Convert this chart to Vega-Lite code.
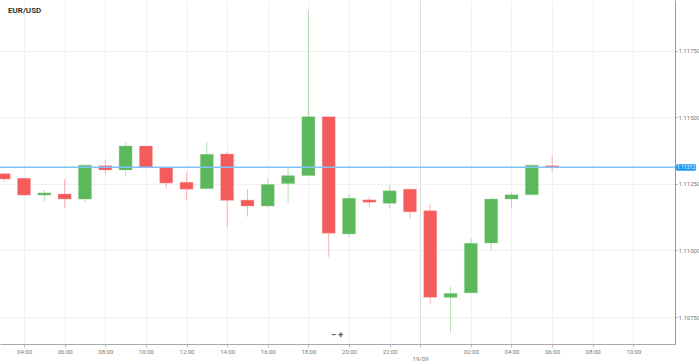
{
  "$schema": "https://vega.github.io/schema/vega-lite/v6.json",
  "width": 675,
  "height": 344,
  "autosize": {"type": "none"},
  "padding": {"left": 0, "top": 0, "right": 24, "bottom": 20},
  "background": "white",
  "title": {"text": "EUR/USD", "anchor": "start", "frame": "group", "offset": 0, "dx": 8, "dy": 15, "fontSize": 8, "font": "Roboto", "fontWeight": "bold", "color": "#333333"},
  "config": {"view": {"stroke": null}, "font": "Roboto"},
  "datasets": {
    "candles": [
      {"t": "2019-09-18T03:00", "o": 1.11288, "h": 1.11293, "l": 1.11258, "c": 1.11268},
      {"t": "2019-09-18T04:00", "o": 1.11271, "h": 1.11272, "l": 1.11207, "c": 1.11208},
      {"t": "2019-09-18T05:00", "o": 1.11208, "h": 1.11227, "l": 1.11183, "c": 1.11216},
      {"t": "2019-09-18T06:00", "o": 1.11212, "h": 1.11268, "l": 1.11160, "c": 1.11193},
      {"t": "2019-09-18T07:00", "o": 1.11193, "h": 1.11321, "l": 1.11181, "c": 1.11320},
      {"t": "2019-09-18T08:00", "o": 1.11318, "h": 1.11340, "l": 1.11286, "c": 1.11302},
      {"t": "2019-09-18T09:00", "o": 1.11302, "h": 1.11406, "l": 1.11277, "c": 1.11392},
      {"t": "2019-09-18T10:00", "o": 1.11392, "h": 1.11394, "l": 1.11309, "c": 1.11311},
      {"t": "2019-09-18T11:00", "o": 1.11310, "h": 1.11311, "l": 1.11233, "c": 1.11253},
      {"t": "2019-09-18T12:00", "o": 1.11256, "h": 1.11294, "l": 1.11187, "c": 1.11230},
      {"t": "2019-09-18T13:00", "o": 1.11232, "h": 1.11406, "l": 1.11230, "c": 1.11361},
      {"t": "2019-09-18T14:00", "o": 1.11362, "h": 1.11371, "l": 1.11089, "c": 1.11188},
      {"t": "2019-09-18T15:00", "o": 1.11189, "h": 1.11230, "l": 1.11127, "c": 1.11167},
      {"t": "2019-09-18T16:00", "o": 1.11167, "h": 1.11271, "l": 1.11162, "c": 1.11248},
      {"t": "2019-09-18T17:00", "o": 1.11251, "h": 1.11314, "l": 1.11179, "c": 1.11281},
      {"t": "2019-09-18T18:00", "o": 1.11281, "h": 1.11899, "l": 1.11280, "c": 1.11502},
      {"t": "2019-09-18T19:00", "o": 1.11502, "h": 1.11503, "l": 1.10976, "c": 1.11065},
      {"t": "2019-09-18T20:00", "o": 1.11062, "h": 1.11212, "l": 1.11052, "c": 1.11196},
      {"t": "2019-09-18T21:00", "o": 1.11190, "h": 1.11202, "l": 1.11162, "c": 1.11181},
      {"t": "2019-09-18T22:00", "o": 1.11177, "h": 1.11246, "l": 1.11158, "c": 1.11224},
      {"t": "2019-09-18T23:00", "o": 1.11230, "h": 1.11231, "l": 1.11118, "c": 1.11145},
      {"t": "2019-09-19T00:00", "o": 1.11149, "h": 1.11173, "l": 1.10798, "c": 1.10824},
      {"t": "2019-09-19T01:00", "o": 1.10824, "h": 1.10864, "l": 1.10693, "c": 1.10839},
      {"t": "2019-09-19T02:00", "o": 1.10841, "h": 1.11044, "l": 1.10840, "c": 1.11027},
      {"t": "2019-09-19T03:00", "o": 1.11028, "h": 1.11199, "l": 1.11002, "c": 1.11193},
      {"t": "2019-09-19T04:00", "o": 1.11193, "h": 1.11218, "l": 1.11158, "c": 1.11209},
      {"t": "2019-09-19T05:00", "o": 1.11209, "h": 1.11321, "l": 1.11208, "c": 1.11320},
      {"t": "2019-09-19T06:00", "o": 1.11318, "h": 1.11358, "l": 1.11297, "c": 1.11312}
    ],
    "price": [{"p": 1.11312, "label": "1.11312"}],
    "buttons": [{"label": "−  +"}]
  },
  "layer": [
    {
      "data": {"name": "candles"},
      "mark": {"type": "rule", "opacity": 0.45, "strokeWidth": 1},
      "encoding": {
        "x": {
          "field": "t", "type": "temporal",
          "scale": {"padding": 0, "domain": [
            {"year": 2019, "month": 9, "date": 18, "hours": 2, "minutes": 49},
            {"year": 2019, "month": 9, "date": 19, "hours": 12, "minutes": 3}
          ]},
          "axis": {
            "title": null,
            "values": [
              {"year": 2019, "month": 9, "date": 18, "hours": 4},
              {"year": 2019, "month": 9, "date": 18, "hours": 6},
              {"year": 2019, "month": 9, "date": 18, "hours": 8},
              {"year": 2019, "month": 9, "date": 18, "hours": 10},
              {"year": 2019, "month": 9, "date": 18, "hours": 12},
              {"year": 2019, "month": 9, "date": 18, "hours": 14},
              {"year": 2019, "month": 9, "date": 18, "hours": 16},
              {"year": 2019, "month": 9, "date": 18, "hours": 18},
              {"year": 2019, "month": 9, "date": 18, "hours": 20},
              {"year": 2019, "month": 9, "date": 18, "hours": 22},
              {"year": 2019, "month": 9, "date": 18, "hours": 23, "minutes": 30},
              {"year": 2019, "month": 9, "date": 19, "hours": 2},
              {"year": 2019, "month": 9, "date": 19, "hours": 4},
              {"year": 2019, "month": 9, "date": 19, "hours": 6},
              {"year": 2019, "month": 9, "date": 19, "hours": 8},
              {"year": 2019, "month": 9, "date": 19, "hours": 10}
            ],
            "labelExpr": "hours(datum.value) == 23 ? ['', '19/09'] : timeFormat(datum.value, '%H:%M')",
            "labelFontSize": 6,
            "labelColor": "#777777",
            "labelPadding": 1,
            "labelLineHeight": 7,
            "tickSize": 3,
            "tickColor": "#bbbbbb",
            "domainColor": "#aaaaaa",
            "grid": true,
            "gridColor": {"condition": {"test": "hours(datum.value) == 23", "value": "#dddddd"}, "value": "#f1f1f1"}
          }
        },
        "y": {
          "field": "l", "type": "quantitative",
          "scale": {"domain": [1.10649, 1.1194], "nice": false, "zero": false, "padding": 0},
          "axis": {
            "title": null,
            "orient": "right",
            "values": [1.1075, 1.11, 1.1125, 1.115, 1.1175],
            "format": ".5f",
            "labelFontSize": 6,
            "labelColor": "#777777",
            "labelPadding": 1,
            "tickSize": 2,
            "tickColor": "#aaaaaa",
            "domainColor": "#999999",
            "grid": true,
            "gridColor": "#f1f1f1"
          }
        },
        "y2": {"field": "h"},
        "color": {"condition": {"test": "datum.c >= datum.o", "value": "#5cb85c"}, "value": "#f45b5b"}
      }
    },
    {
      "data": {"name": "candles"},
      "mark": {"type": "bar", "size": 13, "strokeWidth": 0.6, "strokeOpacity": 0.6},
      "encoding": {
        "x": {"field": "t", "type": "temporal"},
        "y": {"field": "o", "type": "quantitative"},
        "y2": {"field": "c"},
        "color": {"condition": {"test": "datum.c >= datum.o", "value": "#5cb85c"}, "value": "#f45b5b"},
        "stroke": {"condition": {"test": "datum.c >= datum.o", "value": "#8fd08f"}, "value": "#f89a9a"}
      }
    },
    {
      "data": {"name": "price"},
      "mark": {"type": "rule", "color": "#82c3f6", "strokeWidth": 1.5},
      "encoding": {"y": {"field": "p", "type": "quantitative"}}
    },
    {
      "data": {"name": "price"},
      "mark": {"type": "rect", "color": "#2196f3", "cornerRadius": 1.5},
      "encoding": {
        "x": {"datum": {"year": 2019, "month": 9, "date": 19, "hours": 12, "minutes": 6}, "type": "temporal"},
        "x2": {"datum": {"year": 2019, "month": 9, "date": 19, "hours": 13, "minutes": 5}},
        "y": {"datum": 1.11324, "type": "quantitative"},
        "y2": {"datum": 1.11299}
      }
    },
    {
      "data": {"name": "price"},
      "mark": {"type": "text", "color": "white", "fontSize": 5, "align": "center", "baseline": "middle"},
      "encoding": {
        "x": {"datum": {"year": 2019, "month": 9, "date": 19, "hours": 12, "minutes": 36}, "type": "temporal"},
        "y": {"field": "p", "type": "quantitative"},
        "text": {"field": "label"}
      }
    },
    {
      "data": {"name": "buttons"},
      "mark": {"type": "text", "color": "#555555", "fontSize": 9, "fontWeight": "bold", "align": "center", "baseline": "middle"},
      "encoding": {
        "x": {"datum": {"year": 2019, "month": 9, "date": 18, "hours": 19, "minutes": 25}, "type": "temporal"},
        "y": {"datum": 1.10684, "type": "quantitative"},
        "text": {"field": "label"}
      }
    }
  ]
}
